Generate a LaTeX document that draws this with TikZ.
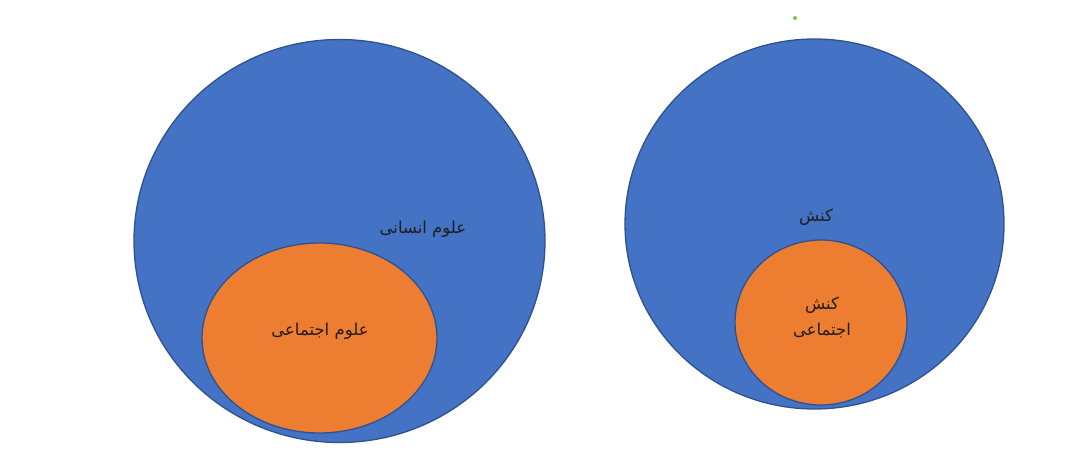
\documentclass[tikz,border=0pt]{standalone}
\usepackage{fontspec}
\usetikzlibrary{shapes.geometric}
\TeXXeTstate=1
\newfontfamily\arabicfont[Script=Arabic]{DejaVu Sans}
\definecolor{oblue}{HTML}{4472C4}
\definecolor{oorange}{HTML}{ED7D31}
\definecolor{edgeblue}{HTML}{2F528F}
\definecolor{dotgreen}{HTML}{7AC943}
\tikzset{
  outerset/.style={ellipse, fill=oblue, draw=edgeblue, line width=1.3pt, inner sep=0pt},
  innerset/.style={ellipse, fill=oorange, draw=edgeblue, line width=1.3pt, inner sep=0pt},
  lbl/.style={font=\arabicfont\fontsize{16.5}{26}\selectfont, text=black!88, align=center, inner sep=0pt}
}
\begin{document}
\begin{tikzpicture}[x=1pt,y=-1pt]
\useasboundingbox (0,0) rectangle (1080,468);
\fill[white] (0,0) rectangle (1080,468);
\node[outerset, minimum width=411pt, minimum height=403pt] (hum) at (339.5,241) {};
\node[innerset, minimum width=235pt, minimum height=190pt] (soc) at (319.5,338) {};
\node[outerset, minimum width=379pt, minimum height=370pt] (act) at (814.5,224) {};
\node[innerset, minimum width=172pt, minimum height=165pt] (sact) at (821,322.5) {};
\node[lbl] (humlbl) at (423,229) {\beginR علوم انسانی\endR};
\node[lbl] (soclbl) at (320,331) {\beginR علوم اجتماعی\endR};
\node[lbl] (actlbl) at (816,217) {\beginR کنش\endR};
\node[lbl] (sactlbl) at (822,317) {\beginR کنش\endR\\\beginR اجتماعی\endR};
\fill[dotgreen] (795,18) circle (2pt);
\end{tikzpicture}
\end{document}
